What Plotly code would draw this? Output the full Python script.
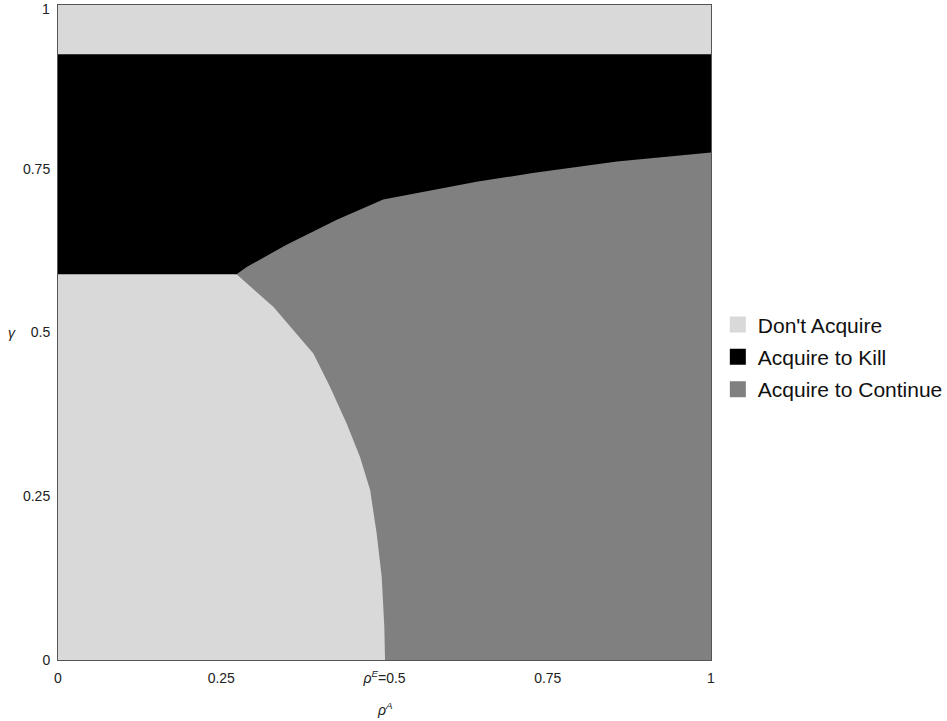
import plotly.graph_objects as go

# Region boundaries
gamma_low = 0.589      # lower edge of the "Acquire to Kill" band at the left
gamma_high = 0.925     # upper edge of the "Acquire to Kill" band

# upper boundary of "Acquire to Continue" (gray/black border)
upper_x = [0.2735, 0.289, 0.350, 0.427, 0.498, 0.641, 0.727, 0.856, 1.0]
upper_y = [0.589, 0.600, 0.634, 0.672, 0.703, 0.730, 0.7435, 0.761, 0.775]

# lower-left boundary of "Acquire to Continue" (light/gray border)
lower_x = [0.2735, 0.330, 0.355, 0.391, 0.4165, 0.442, 0.4625, 0.478, 0.488, 0.4957, 0.4997, 0.5008]
lower_y = [0.589, 0.539, 0.509, 0.468, 0.417, 0.361, 0.310, 0.2595, 0.193, 0.127, 0.051, 0.0]

x_tickvals = [0, 0.25, 0.5, 0.75, 1]
x_ticktext = ["0", "0.25", "<i>\u03c1<sup>E</sup></i>=0.5", "0.75", "1"]
y_tickvals = [0, 0.25, 0.5, 0.75, 1]
y_ticktext = ["0", "0.25", "0.5", "0.75", "1"]

names = ["Don't Acquire", "Acquire to Kill", "Acquire to Continue"]
colors = ["#d9d9d9", "#000000", "#808080"]

FONT = "Liberation Sans, Arial"
TICKFONT = dict(family=FONT, size=14, color="#222222")

fig = go.Figure()

# Don't Acquire: whole square as background
fig.add_trace(go.Scatter(x=[0, 1, 1, 0, 0], y=[0, 0, 1, 1, 0], fill="toself",
                         fillcolor=colors[0], mode="lines", line=dict(width=0),
                         showlegend=False, hoverinfo="skip"))
# Acquire to Kill band
fig.add_trace(go.Scatter(x=[0, 1, 1, 0, 0], y=[gamma_low, gamma_low, gamma_high, gamma_high, gamma_low],
                         fill="toself", fillcolor=colors[1], mode="lines", line=dict(width=0),
                         showlegend=False, hoverinfo="skip"))
# Acquire to Continue region
poly_x = upper_x + [1.0] + lower_x[::-1]
poly_y = upper_y + [0.0] + lower_y[::-1]
fig.add_trace(go.Scatter(x=poly_x, y=poly_y, fill="toself", fillcolor=colors[2],
                         mode="lines", line=dict(width=0, color=colors[2]),
                         showlegend=False, hoverinfo="skip"))

# legend entries
for n, c in zip(names, colors):
    fig.add_trace(go.Scatter(x=[None], y=[None], mode="markers", name=n, legendgroup=n,
                             marker=dict(symbol="square", size=20, color=c,
                                         line=dict(width=0))))

axis_common = dict(showgrid=False, zeroline=False, showline=True, mirror=True,
                   linecolor="#555555", linewidth=1, ticks="", tickfont=TICKFONT,
                   automargin=False)

fig.update_xaxes(range=[0, 1], tickvals=x_tickvals, ticktext=x_ticktext,
                 ticklabelstandoff=5, **axis_common)
# the top y tick label sits at the page edge, so it is drawn as an annotation
fig.update_yaxes(range=[0, 1], tickvals=y_tickvals[:-1], ticktext=y_ticktext[:-1],
                 ticklabelstandoff=4, **axis_common)
fig.add_annotation(text=y_ticktext[-1], xref="paper", yref="y", x=0, y=y_tickvals[-1],
                   xanchor="right", yanchor="middle", xshift=-6, yshift=-4,
                   showarrow=False, font=TICKFONT)

fig.add_annotation(text="<i>\u03c1<sup>A</sup></i>", xref="paper", yref="paper", x=0.5, y=-0.058,
                   yanchor="top", showarrow=False, font=TICKFONT)
fig.add_annotation(text="<i>\u03b3</i>", xref="paper", yref="paper", x=-0.07, y=0.5,
                   xanchor="center", showarrow=False, font=TICKFONT)

fig.update_layout(
    width=947, height=721,
    margin=dict(l=58, r=236, t=5, b=61, autoexpand=False),
    paper_bgcolor="white", plot_bgcolor="white",
    legend=dict(xref="container", yref="container", x=0.758, y=0.505,
                xanchor="left", yanchor="middle",
                font=dict(family=FONT, size=21, color="#111111"),
                itemsizing="trace", tracegroupgap=2, bgcolor="rgba(0,0,0,0)"),
)

fig.write_html("out.html", config={"displayModeBar": False},
               post_script="document.body.style.margin='0px';")
